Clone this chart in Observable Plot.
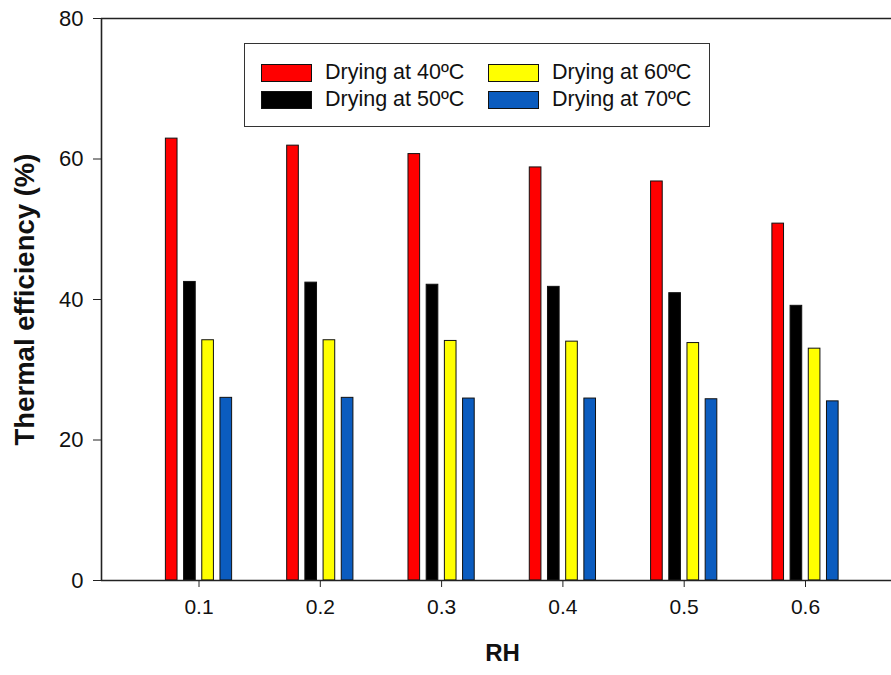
<!DOCTYPE html>
<html>
<head>
<meta charset="utf-8">
<script src="https://cdn.jsdelivr.net/npm/d3@7"></script>
<script src="https://cdn.jsdelivr.net/npm/@observablehq/plot@0.6"></script>
<style>
  html, body { margin: 0; padding: 0; background: #fff; }
  #wrap { position: relative; width: 891px; height: 675px; font-family: "Liberation Sans", Arial, sans-serif; }
  #legend { position: absolute; left: 244px; top: 43px; width: 464px; height: 82px; border: 1.5px solid #333; background: #fff; box-sizing: content-box; }
  .item { position: absolute; display: flex; align-items: center; font-size: 21.5px; color: #111; }
  .sw { width: 49px; height: 16px; border: 1px solid #111; margin-right: 13px; }
</style>
</head>
<body>
<div id="wrap"></div>
<script>
const rh = [0.1, 0.2, 0.3, 0.4, 0.5, 0.6];
const series = ["Drying at 40ºC", "Drying at 50ºC", "Drying at 60ºC", "Drying at 70ºC"];
const colors = ["#ff0000", "#000000", "#ffff00", "#0b5cbf"];
const at40 = [62.9, 61.9, 60.7, 58.8, 56.8, 50.8];
const at50 = [42.5, 42.4, 42.1, 41.8, 40.9, 39.1];
const at60 = [34.2, 34.2, 34.1, 34.0, 33.8, 33.0];
const at70 = [26.0, 26.0, 25.9, 25.9, 25.8, 25.5];
const yTicks = [0, 20, 40, 60, 80];
const xTicks = [0.1, 0.2, 0.3, 0.4, 0.5, 0.6];

const allValues = [at40, at50, at60, at70];
const rows = [];
allValues.forEach((vals, si) => {
  vals.forEach((v, i) => rows.push({rh: rh[i], series: series[si], si, value: v}));
});

const step = 0.015, half = 0.0048;
const xMin = 0.1 - 97.5 / 1213, xMax = 0.1 + 692.5 / 1213;

const chart = Plot.plot({
  width: 891,
  height: 675,
  marginLeft: 101,
  marginRight: 0,
  marginTop: 18,
  marginBottom: 95,
  style: {fontFamily: "'Liberation Sans', Arial, sans-serif", fontSize: "21px", color: "#111", background: "#fff"},
  x: {domain: [xMin, xMax], ticks: xTicks, tickFormat: d3.format(".1f"), label: null},
  y: {domain: [0, 80], ticks: yTicks, label: null},
  color: {domain: series, range: colors},
  marks: [
    Plot.rectY(rows, {
      x1: d => d.rh + (d.si - 1.5) * step - half,
      x2: d => d.rh + (d.si - 1.5) * step + half,
      y1: 0,
      y2: "value",
      fill: "series",
      stroke: "#111",
      strokeWidth: 1
    }),
    Plot.axisY({ticks: yTicks, tickSize: 8, tickPadding: 10, fontSize: 22, label: null, stroke: "#222"}),
    Plot.axisX({ticks: xTicks, tickSize: 7, tickPadding: 12, fontSize: 21, label: null, tickFormat: d3.format(".1f"), stroke: "#222"}),
    Plot.ruleY([0, 80], {stroke: "#222", strokeWidth: 1.6}),
    Plot.ruleX([xMin], {stroke: "#222", strokeWidth: 1.6}),
    Plot.text(["Thermal efficiency (%)"], {frameAnchor: "left", textAnchor: "middle", dx: -76, rotate: -90, fontSize: 27.5, fontWeight: "bold", fill: "#111"}),
    Plot.text(["RH"], {frameAnchor: "bottom", textAnchor: "middle", dx: 6, dy: 80, fontSize: 24, fontWeight: "bold", fill: "#111"})
  ]
});

// enlarge tick labels
d3.select(chart).selectAll("text").each(function() {
  const s = this.textContent.trim();
  if (/^\d+(\.\d)?$/.test(s)) {
    d3.select(this).style("font-size", s.includes(".") ? "21px" : "22px");
  }
});

const wrap = document.getElementById("wrap");
wrap.appendChild(chart);

const legend = document.createElement("div");
legend.id = "legend";
const pos = [[16, 19], [16, 46], [243, 19], [243, 46]];
series.forEach((s, i) => {
  const it = document.createElement("div");
  it.className = "item";
  it.style.left = pos[i][0] + "px";
  it.style.top = (pos[i][1] - 3) + "px";
  const sw = document.createElement("div");
  sw.className = "sw";
  sw.style.background = colors[i];
  const t = document.createElement("span");
  t.textContent = s;
  it.appendChild(sw);
  it.appendChild(t);
  legend.appendChild(it);
});
wrap.appendChild(legend);
</script>
</body>
</html>
